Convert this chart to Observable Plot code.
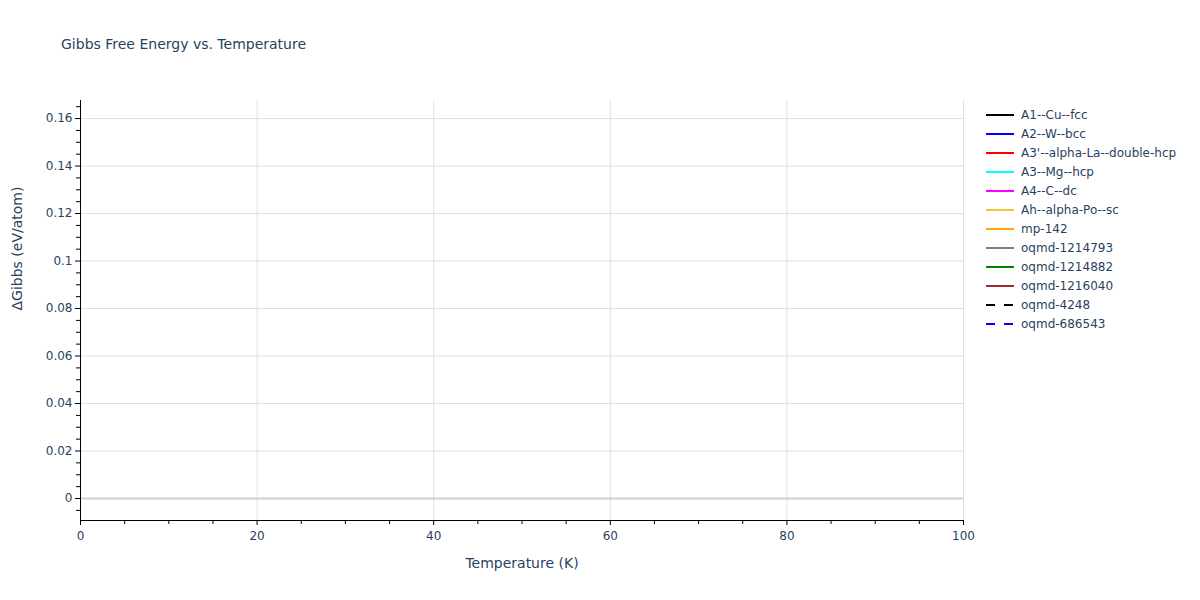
<!DOCTYPE html>
<html>
<head>
<meta charset="utf-8">
<script src="https://cdn.jsdelivr.net/npm/d3@7"></script>
<script src="https://cdn.jsdelivr.net/npm/@observablehq/plot@0.6"></script>
<style>
  html, body { margin: 0; padding: 0; background: #fff; }
  #wrap { position: relative; width: 1200px; height: 600px; font-family: "DejaVu Sans", Verdana, sans-serif; color: #2a3f5f; }
  #title { position: absolute; left: 61px; top: 36px; font-size: 14px; white-space: nowrap; }
  #legend { position: absolute; left: 984px; top: 105px; font-size: 12px; }
  .item { display: flex; align-items: center; height: 19px; white-space: nowrap; }
  .item svg { margin-right: 7px; }
  #chart { position: absolute; left: 0; top: 0; }
</style>
</head>
<body>
<div id="wrap">
  <div id="chart"></div>
  <div id="title">Gibbs Free Energy vs. Temperature</div>
  <div id="legend"></div>
</div>
<script>
// Series names and styles (no data points are visible in the reference)
const seriesNames = ["A1--Cu--fcc","A2--W--bcc","A3'--alpha-La--double-hcp","A3--Mg--hcp","A4--C--dc","Ah--alpha-Po--sc","mp-142","oqmd-1214793","oqmd-1214882","oqmd-1216040","oqmd-4248","oqmd-686543"];
const seriesColors = ["#000000","#0000ff","#ff0000","#00ffff","#ff00ff","#eec640","#ffa500","#808080","#008000","#a52a2a","#000000","#0000ff"];
const seriesDashed = [false,false,false,false,false,false,false,false,false,false,true,true];
// Temperature/ΔGibbs values per series: empty in the reference
const seriesTemps = [[],[],[],[],[],[],[],[],[],[],[],[]];
const seriesGibbs = [[],[],[],[],[],[],[],[],[],[],[],[]];

const xDomain = [0, 100];
const yDomain = [-0.00926, 0.1676];
const xMajorTicks = [0, 20, 40, 60, 80, 100];
const xMinorTicks = [5, 10, 15, 25, 30, 35, 45, 50, 55, 65, 70, 75, 85, 90, 95];
const yMajorTicks = [0, 0.02, 0.04, 0.06, 0.08, 0.1, 0.12, 0.14, 0.16];
const yMinorTicks = [-0.005, 0.005, 0.01, 0.015, 0.025, 0.03, 0.035, 0.045, 0.05, 0.055, 0.065, 0.07, 0.075, 0.085, 0.09, 0.095, 0.105, 0.11, 0.115, 0.125, 0.13, 0.135, 0.145, 0.15, 0.155, 0.165];

const textColor = "#2a3f5f";
const lineMarks = seriesNames.map((name, i) => {
  const data = seriesTemps[i].map((t, j) => ({T: t, G: seriesGibbs[i][j]}));
  return Plot.line(data, {x: "T", y: "G", stroke: seriesColors[i], strokeWidth: 2, strokeDasharray: seriesDashed[i] ? "9,9" : null});
});

const chart = Plot.plot({
  width: 1200,
  height: 600,
  marginLeft: 80,
  marginRight: 237,
  marginTop: 100,
  marginBottom: 80,
  style: {fontFamily: '"DejaVu Sans", Verdana, sans-serif', fontSize: "12px", color: textColor, background: "transparent"},
  x: {domain: xDomain},
  y: {domain: yDomain},
  marks: [
    Plot.gridY(yMajorTicks, {stroke: "#e0e0e0", strokeOpacity: 1, strokeWidth: 1}),
    Plot.gridX(xMajorTicks.filter(d => d > 0), {stroke: "#e0e0e0", strokeOpacity: 1, strokeWidth: 1}),
    Plot.ruleY([0], {stroke: "#d0d0d0", strokeWidth: 2}),
    ...lineMarks,
    Plot.axisY(yMajorTicks, {tickSize: 5, tickPadding: 3, stroke: "#000", fill: textColor, fontSize: 12, tickFormat: d => String(+d.toFixed(2)), label: null}),
    Plot.axisY(yMinorTicks, {tickSize: 4, stroke: "#000", tickFormat: () => "", label: null}),
    Plot.axisX(xMajorTicks, {tickSize: 5, tickPadding: 6, stroke: "#000", fill: textColor, fontSize: 12, tickFormat: d => String(d), label: null}),
    Plot.axisX(xMinorTicks, {tickSize: 4, stroke: "#000", tickFormat: () => "", label: null}),
    Plot.ruleX([xDomain[0]], {stroke: "#000", strokeWidth: 1}),
    Plot.ruleY([yDomain[0]], {stroke: "#000", strokeWidth: 1}),
    Plot.text(["Temperature (K)"], {frameAnchor: "bottom", dy: 47, fontSize: 14, fill: textColor}),
    Plot.text(["ΔGibbs (eV/atom)"], {frameAnchor: "left", dx: -63, rotate: -90, fontSize: 14, fill: textColor})
  ]
});
document.getElementById("chart").appendChild(chart);

const legend = document.getElementById("legend");
seriesNames.forEach((name, i) => {
  const item = document.createElement("div");
  item.className = "item";
  item.innerHTML = `<svg width="30" height="6"><line x1="2" y1="3" x2="30" y2="3" stroke="${seriesColors[i]}" stroke-width="2" ${seriesDashed[i] ? 'stroke-dasharray="9,9"' : ''}/></svg><span></span>`;
  item.querySelector("span").textContent = name;
  legend.appendChild(item);
});
</script>
</body>
</html>
